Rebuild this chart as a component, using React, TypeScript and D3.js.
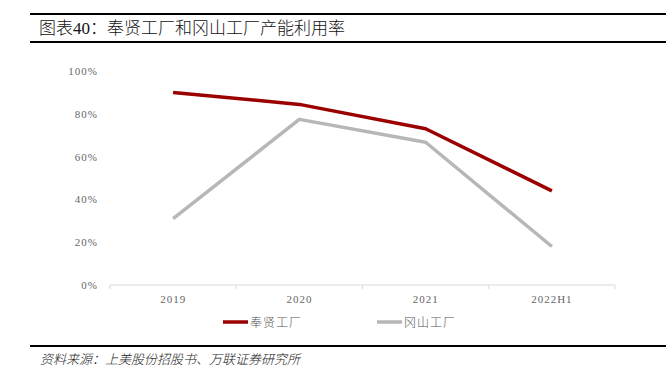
import React from "react";
import * as d3 from "d3";

const categories = ["2019", "2020", "2021", "2022H1"];
const fengxian = [0.9, 0.844, 0.73, 0.44];
const gangshan = [0.31, 0.774, 0.667, 0.18];
const yTicks = [0, 0.2, 0.4, 0.6, 0.8, 1.0];
const seriesNames = ["奉贤工厂", "冈山工厂"];
const colors = ["#9B0000", "#B7B7B7"];

export default function App() {
  const W = 666, H = 376;
  const left = 110, right = 615, top = 71, bottom = 285;
  const x = d3.scaleBand().domain(categories).range([left, right]);
  const y = d3.scaleLinear().domain([0, 1]).range([bottom, top]);
  const line = d3
    .line<number>()
    .x((_, i) => (x(categories[i]) as number) + x.bandwidth() / 2)
    .y((d) => y(d));
  const serif = "'Liberation Serif', 'Times New Roman', serif";
  const cjk = "'Noto Sans CJK SC', sans-serif";
  const tickVals = categories.map((c) => x(c) as number).concat([right]);
  return (
    <svg width={W} height={H} style={{ position: "absolute", left: 0, top: 0 }}>
      <rect width={W} height={H} fill="#fff" />
      <line x1={30} x2={W} y1={14} y2={14} stroke="#000" strokeWidth={2.2} />
      <line x1={30} x2={W} y1={42} y2={42} stroke="#000" strokeWidth={2.2} />
      <text x={39} y={34} fontSize={17} fill="#111" fontWeight={300}>
        <tspan fontFamily={cjk}>图表</tspan>
        <tspan fontFamily={serif} fontWeight={400}>40</tspan>
        <tspan fontFamily={cjk}>：奉贤工厂和冈山工厂产能利用率</tspan>
      </text>
      {yTicks.map((t) => (
        <text
          key={t}
          x={98}
          y={y(t) + 4}
          textAnchor="end"
          fontFamily={serif}
          fontSize={11}
          fill="#666"
          letterSpacing={1}
        >
          {d3.format(".0%")(t)}
        </text>
      ))}
      <line x1={left} x2={right} y1={bottom} y2={bottom} stroke="#D9D9D9" strokeWidth={1} />
      {tickVals.map((v, i) => (
        <line key={i} x1={v} x2={v} y1={bottom} y2={bottom + 4} stroke="#D9D9D9" />
      ))}
      {categories.map((c) => (
        <text
          key={c}
          x={(x(c) as number) + x.bandwidth() / 2}
          y={303}
          textAnchor="middle"
          fontFamily={serif}
          fontSize={11}
          fill="#666"
          letterSpacing={1}
        >
          {c}
        </text>
      ))}
      {[fengxian, gangshan].map((s, i) => (
        <path
          key={i}
          d={line(s) || ""}
          fill="none"
          stroke={colors[i]}
          strokeWidth={3.5}
          strokeLinejoin="round"
        />
      ))}
      {seriesNames.map((n, i) => {
        const lx = i === 0 ? 223 : 377;
        return (
          <g key={n}>
            <line x1={lx} x2={lx + 25} y1={322} y2={322} stroke={colors[i]} strokeWidth={3.5} />
            <text x={lx + 27} y={327} fontFamily={cjk} fontSize={12} fill="#555" fontWeight={300} letterSpacing={1}>
              {n}
            </text>
          </g>
        );
      })}
      <line x1={30} x2={W} y1={346} y2={346} stroke="#000" strokeWidth={2.2} />
      <text x={40} y={364} fontFamily={cjk} fontSize={13} fontStyle="italic" fill="#222" fontWeight={300}>
        资料来源：上美股份招股书、万联证券研究所
      </text>
    </svg>
  );
}
